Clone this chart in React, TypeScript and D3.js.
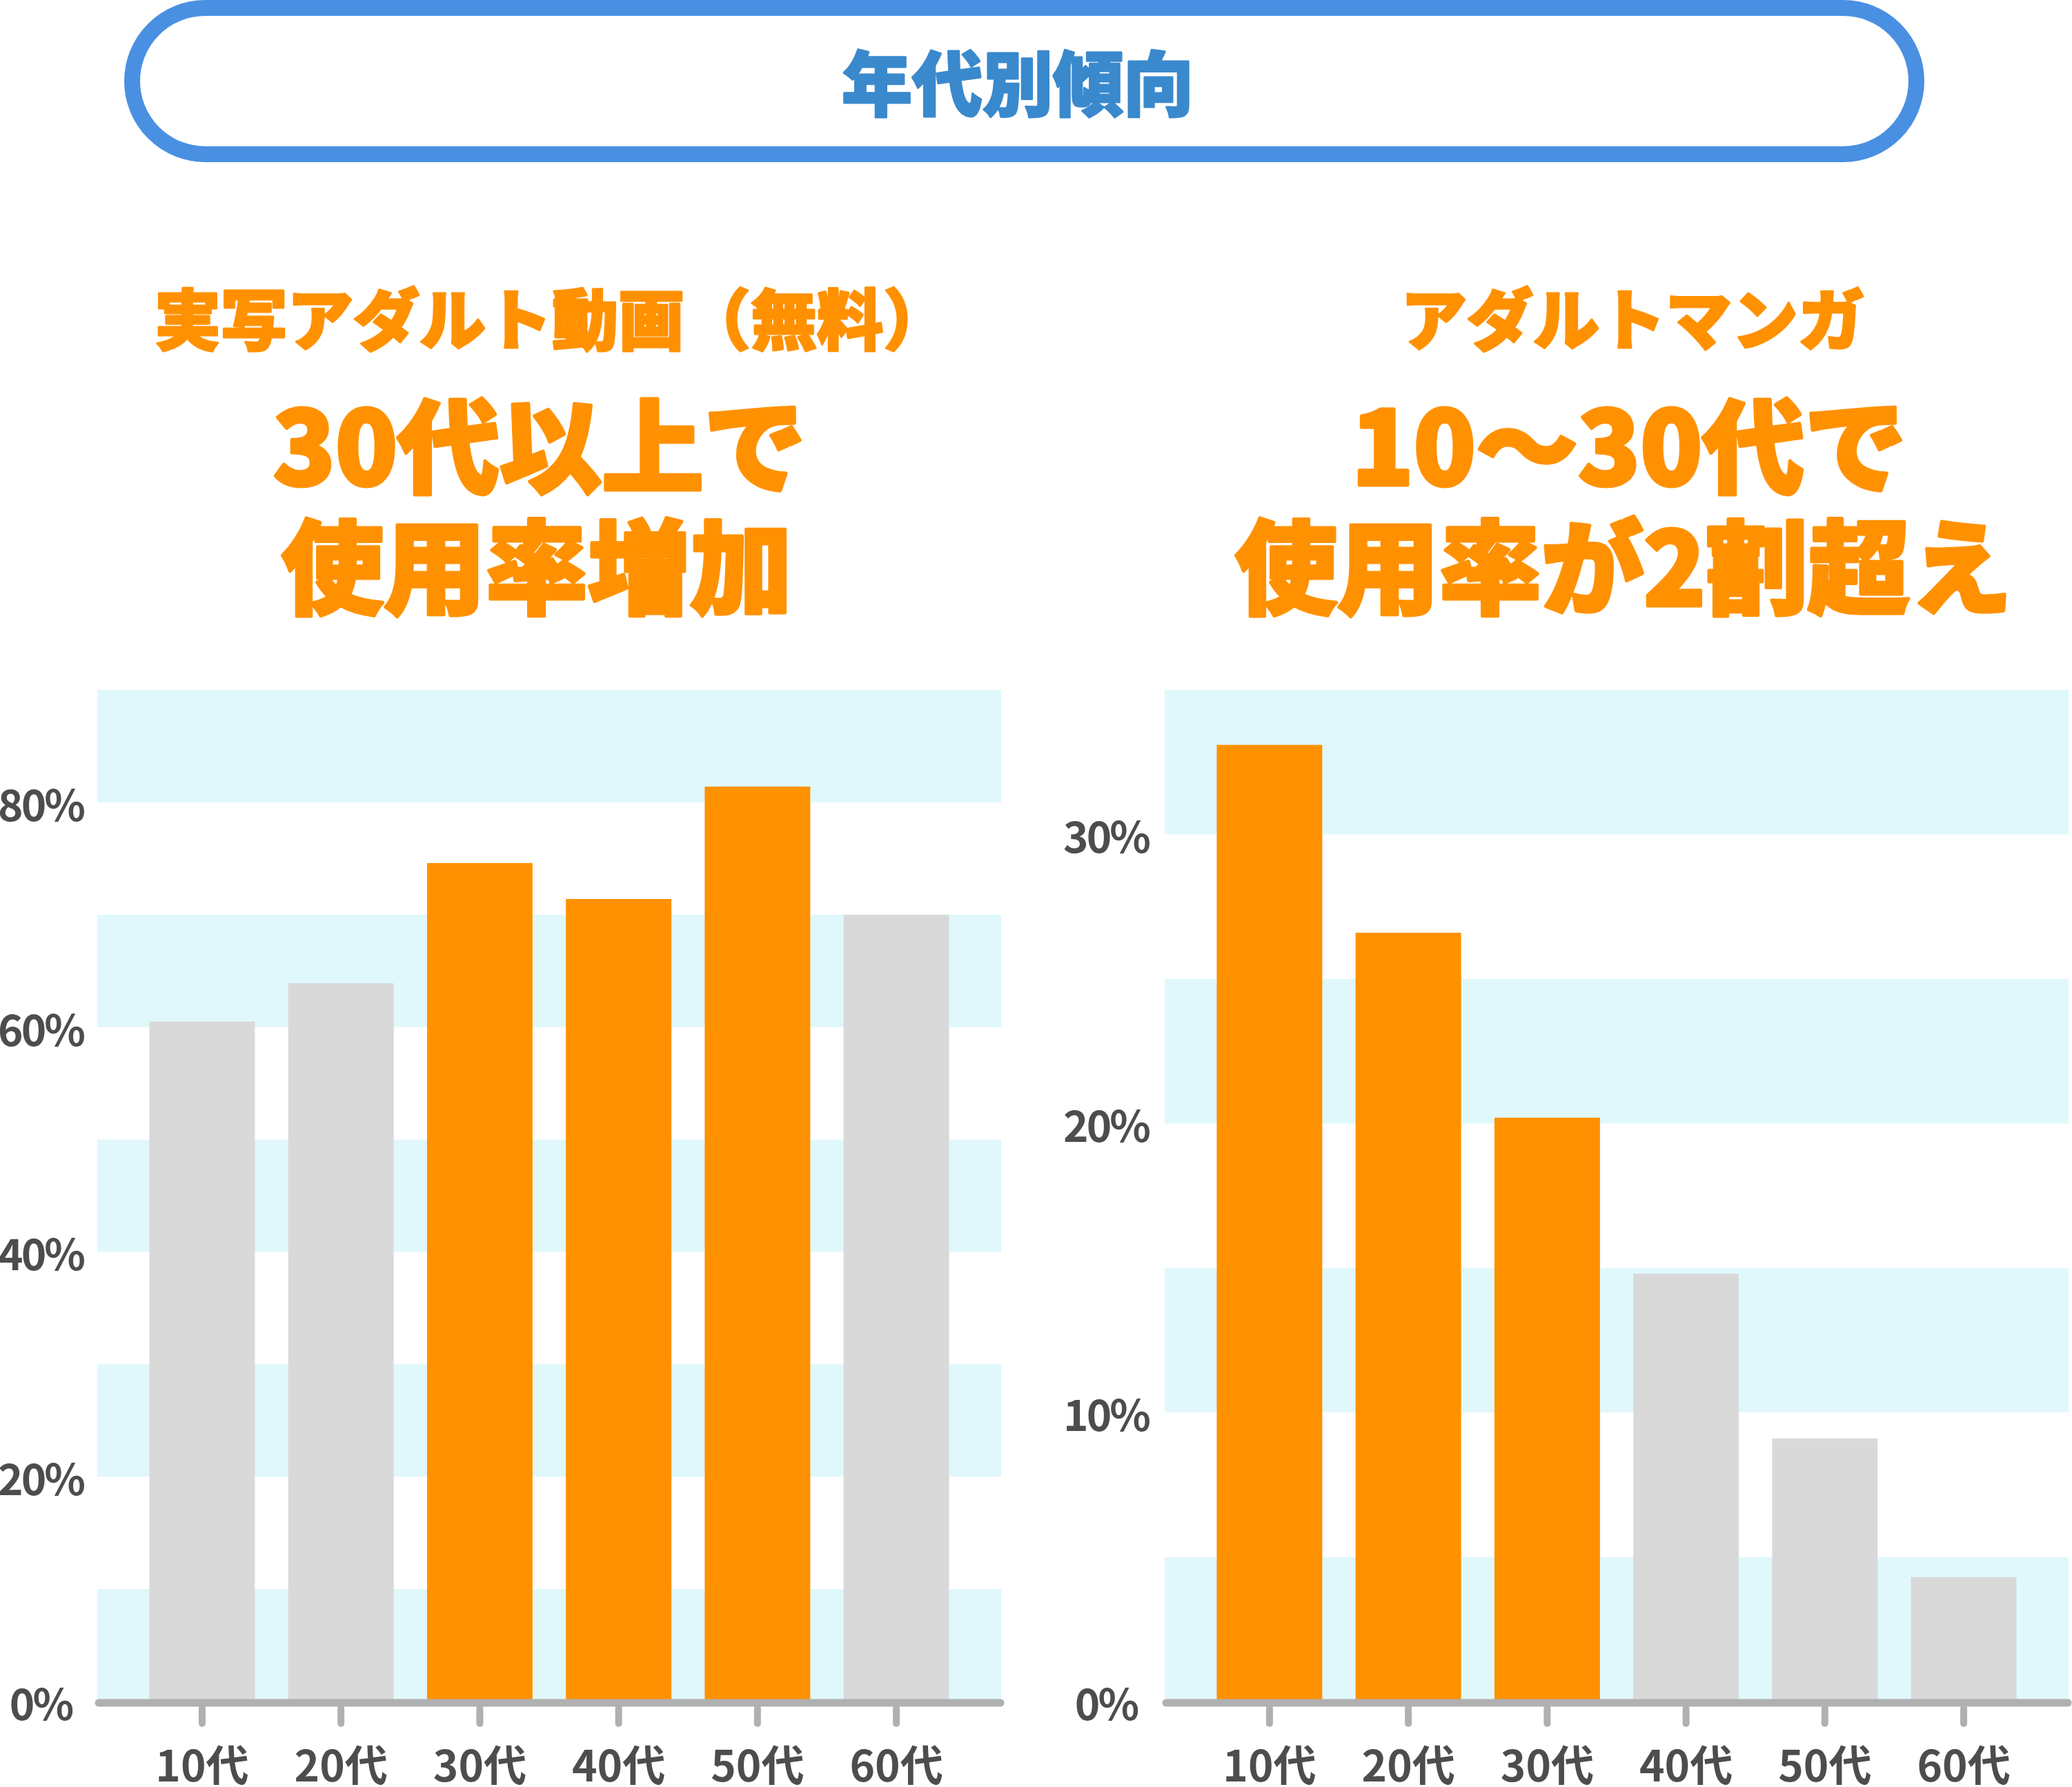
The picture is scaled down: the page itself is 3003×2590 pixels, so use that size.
import React, { useEffect, useRef } from 'react';
import * as d3 from 'd3';

// --- data ---
const ageGroups = ['10代', '20代', '30代', '40代', '50代', '60代'];

const videoValues = [60.5, 63.9, 74.6, 71.4, 81.4, 70.0];
const videoHighlight = [false, false, true, true, true, false];
const videoTicks = [0, 20, 40, 60, 80];
const videoMax = 90;
const videoBandStep = 10;

const mangaValues = [33.1, 26.6, 20.2, 14.8, 9.1, 4.3];
const mangaHighlight = [true, true, true, false, false, false];
const mangaTicks = [0, 10, 20, 30];
const mangaMax = 35;
const mangaBandStep = 5;

const pageTitle = '年代別傾向';
const videoHeading = ['実写アダルト動画（無料）', '30代以上で', '使用率増加'];
const mangaHeading = ['アダルトマンガ', '10〜30代で', '使用率が2割超え'];

const W = 3003;
const H = 2590;
const ORANGE = '#ff9100';
const GRAY_BAR = '#d9d9d9';
const BAND = '#e0f8fc';
const AXIS = '#b0b0b0';
const LABEL = '#4d4d4d';
const BLUE = '#4a90e2';
const BLUE_TEXT = '#3a89cd';
const FONT = '"Noto Sans CJK JP", "Noto Sans", sans-serif';

interface PanelSpec {
    values: number[];
    highlight: boolean[];
    ticks: number[];
    max: number;
    bandStep: number;
    left: number;
    right: number;
    labelX: number;
    heading: string[];
    headingX: number[];
}

const App: React.FC = () => {
    const svgRef = useRef<SVGSVGElement>(null);

    useEffect(() => {
        if (!svgRef.current) return;
        const svg = d3.select(svgRef.current);
        svg.selectAll('*').remove();

        const top = 1000;
        const base = 2466;

        // title pill
        svg.append('rect')
            .attr('x', 191.5).attr('y', 11.5)
            .attr('width', 2586).attr('height', 212)
            .attr('rx', 106).attr('ry', 106)
            .attr('fill', '#fff')
            .attr('stroke', BLUE)
            .attr('stroke-width', 23);

        svg.append('text')
            .attr('x', 1475).attr('y', 115)
            .attr('text-anchor', 'middle')
            .attr('dominant-baseline', 'central')
            .attr('fill', BLUE_TEXT)
            .attr('stroke', BLUE_TEXT)
            .attr('stroke-width', 3)
            .attr('stroke-linejoin', 'round')
            .style('font-family', FONT)
            .style('font-weight', 900)
            .style('font-size', '102px')
            .text(pageTitle);

        const panels: PanelSpec[] = [
            {
                values: videoValues, highlight: videoHighlight, ticks: videoTicks,
                max: videoMax, bandStep: videoBandStep,
                left: 141, right: 1451, labelX: 59,
                heading: videoHeading, headingX: [800, 782, 778]
            },
            {
                values: mangaValues, highlight: mangaHighlight, ticks: mangaTicks,
                max: mangaMax, bandStep: mangaBandStep,
                left: 1688, right: 2998, labelX: 1603,
                heading: mangaHeading, headingX: [2366, 2361, 2353]
            }
        ];

        panels.forEach(p => {
            const x = d3.scaleBand<string>()
                .domain(ageGroups)
                .range([p.left, p.right])
                .paddingInner(0.24)
                .paddingOuter(0.375);

            const y = d3.scaleLinear()
                .domain([0, p.max])
                .range([base, top]);

            // headings
            const headY = [457, 638, 813];
            const headSize = [96, 148, 148];
            const headStroke = [3, 5, 5];
            p.heading.forEach((t, i) => {
                svg.append('text')
                    .attr('x', p.headingX[i]).attr('y', headY[i])
                    .attr('text-anchor', 'middle')
                    .attr('dominant-baseline', 'central')
                    .attr('fill', ORANGE)
                    .attr('stroke', ORANGE)
                    .attr('stroke-width', headStroke[i])
                    .attr('stroke-linejoin', 'round')
                    .style('font-family', FONT)
                    .style('font-weight', 900)
                    .style('font-size', `${headSize[i]}px`)
                    .text(t);
            });

            // alternating background bands (shaded from 0 upward)
            const bandStarts = d3.range(0, p.max, p.bandStep * 2);
            svg.append('g')
                .selectAll('rect')
                .data(bandStarts)
                .join('rect')
                .attr('x', p.left)
                .attr('width', p.right - p.left)
                .attr('y', d => y(Math.min(d + p.bandStep, p.max)))
                .attr('height', d => y(d) - y(Math.min(d + p.bandStep, p.max)))
                .attr('fill', BAND);

            // bars
            svg.append('g')
                .selectAll('rect')
                .data(p.values)
                .join('rect')
                .attr('x', (_, i) => x(ageGroups[i])!)
                .attr('width', x.bandwidth())
                .attr('y', d => y(d))
                .attr('height', d => y(0) - y(d))
                .attr('fill', (_, i) => p.highlight[i] ? ORANGE : GRAY_BAR);

            // axis line
            svg.append('line')
                .attr('x1', p.left + 2).attr('x2', p.right - 1)
                .attr('y1', base + 2).attr('y2', base + 2)
                .attr('stroke', AXIS)
                .attr('stroke-width', 11)
                .attr('stroke-linecap', 'round');

            // tick marks
            svg.append('g')
                .selectAll('line')
                .data(ageGroups)
                .join('line')
                .attr('x1', d => x(d)! + x.bandwidth() / 2)
                .attr('x2', d => x(d)! + x.bandwidth() / 2)
                .attr('y1', base + 10).attr('y2', base + 32)
                .attr('stroke', AXIS)
                .attr('stroke-width', 10)
                .attr('stroke-linecap', 'round');

            // category labels
            svg.append('g')
                .selectAll('text')
                .data(ageGroups)
                .join('text')
                .attr('x', d => x(d)! + x.bandwidth() / 2)
                .attr('y', 2582)
                .attr('text-anchor', 'middle')
                .attr('fill', LABEL)
                .style('font-family', FONT)
                .style('font-weight', 700)
                .style('font-size', '62px')
                .text(d => d);

            // value labels
            svg.append('g')
                .selectAll('text')
                .data(p.ticks)
                .join('text')
                .attr('x', p.labelX)
                .attr('y', d => y(d))
                .attr('text-anchor', 'middle')
                .attr('dominant-baseline', 'central')
                .attr('fill', LABEL)
                .style('font-family', FONT)
                .style('font-weight', 700)
                .style('font-size', '62px')
                .style('letter-spacing', '-3px')
                .text(d => `${d}%`);
        });
    }, []);

    return (
        <svg
            ref={svgRef}
            width={W}
            height={H}
            viewBox={`0 0 ${W} ${H}`}
            style={{ position: 'absolute', left: 0, top: 0, display: 'block', background: '#fff' }}
        />
    );
};

export default App;
